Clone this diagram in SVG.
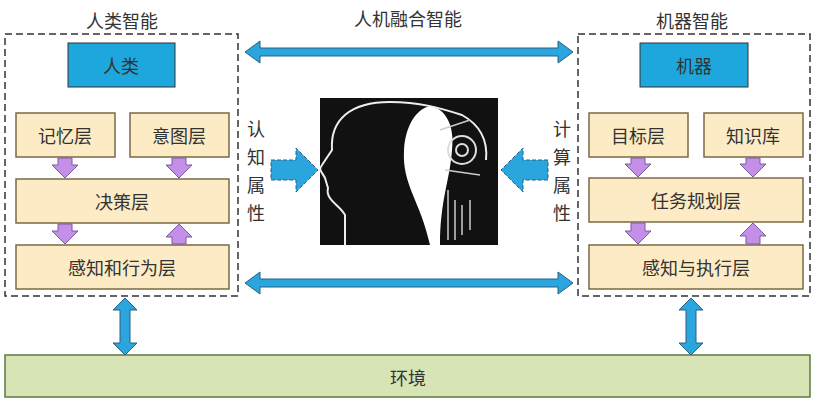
<svg xmlns="http://www.w3.org/2000/svg" width="815" height="400" viewBox="0 0 815 400">
<style>
text{font-family:"Noto Sans CJK SC","Liberation Sans",sans-serif;fill:#333;text-anchor:middle;dominant-baseline:central}
.t{font-size:18px}
.dash{fill:none;stroke:#333;stroke-width:1.5;stroke-dasharray:7 4}
.blue{fill:#1ea7dd;stroke:#333;stroke-width:1}
.layer{fill:#fcebc4;stroke:#7a6a45;stroke-width:1.5}
.arr{fill:#2aa5de;stroke:#2a5f86;stroke-width:1}
.darr{fill:#2aa5de;stroke:#2a5f86;stroke-width:1;stroke-dasharray:4 2}
.pur{fill:#c48fe9;stroke:#7a5a9a;stroke-width:1}
</style>
<rect width="815" height="400" fill="#fff"/>
<text class="t" x="122" y="20">人类智能</text>
<text class="t" x="408" y="18">人机融合智能</text>
<text class="t" x="692" y="20">机器智能</text>
<g id="human">
<rect class="dash" x="5" y="34" width="233" height="262"/>
<g id="human-node"><rect class="blue" x="68" y="43" width="107" height="44"/><text class="t" x="121" y="65">人类</text></g>
<g id="memory"><rect class="layer" x="16" y="113" width="99" height="44"/><text class="t" x="65" y="135">记忆层</text></g>
<g id="intent"><rect class="layer" x="130" y="113" width="99" height="44"/><text class="t" x="179" y="135">意图层</text></g>
<g id="decision"><rect class="layer" x="16" y="179" width="213" height="44"/><text class="t" x="122" y="201">决策层</text></g>
<g id="perceive-act"><rect class="layer" x="16" y="245" width="213" height="44"/><text class="t" x="122" y="267">感知和行为层</text></g>
</g>
<g id="machine">
<rect class="dash" x="578" y="34" width="232" height="262"/>
<g id="machine-node"><rect class="blue" x="640" y="43" width="108" height="44"/><text class="t" x="694" y="65">机器</text></g>
<g id="goal"><rect class="layer" x="589" y="113" width="99" height="44"/><text class="t" x="638" y="135">目标层</text></g>
<g id="knowledge"><rect class="layer" x="704" y="113" width="99" height="44"/><text class="t" x="753" y="135">知识库</text></g>
<g id="planning"><rect class="layer" x="589" y="178" width="214" height="44"/><text class="t" x="696" y="200">任务规划层</text></g>
<g id="perceive-exec"><rect class="layer" x="589" y="245" width="214" height="44"/><text class="t" x="696" y="267">感知与执行层</text></g>
</g>
<g id="image">
<rect x="320" y="98" width="178" height="147" fill="#111"/>
<path d="M430 245 C420 200 402 185 404 150 C406 120 420 108 430 106 C445 108 455 125 452 150 C450 180 440 200 440 245 Z" fill="#fff"/>
<path d="M345 245 L345 215 C340 205 325 200 328 188 L325 178 C322 172 318 170 322 165 L332 150 C330 120 350 102 390 102 C420 102 440 108 462 115 C480 125 488 140 486 160" fill="none" stroke="#eee" stroke-width="2"/>
<circle cx="462" cy="150" r="14" fill="none" stroke="#ddd" stroke-width="2"/>
<circle cx="462" cy="150" r="6" fill="none" stroke="#ddd" stroke-width="2"/>
<path d="M448 190 L448 240 M455 200 L455 240 M462 205 L462 235 M470 200 L470 230 M440 130 L470 120 M445 170 L480 175" stroke="#ccc" stroke-width="1.5" fill="none"/>
</g>
<g id="labels">
<text class="t" x="256" y="128">认</text><text class="t" x="256" y="156">知</text><text class="t" x="256" y="184">属</text><text class="t" x="256" y="212">性</text>
<text class="t" x="562" y="128">计</text><text class="t" x="562" y="156">算</text><text class="t" x="562" y="184">属</text><text class="t" x="562" y="212">性</text>
</g>
<g id="env"><rect x="5" y="355" width="805" height="42" fill="#d7e4b6" stroke="#5e7a3c" stroke-width="1.5"/><text class="t" x="408" y="377">环境</text></g>
<g id="connectors">
<path class="arr" d="M245 52 L260 41 L260 48 L558 48 L558 41 L573 52 L558 63 L558 56 L260 56 L260 63 Z"/>
<path class="arr" d="M245 283 L260 272 L260 279 L558 279 L558 272 L573 283 L558 294 L558 287 L260 287 L260 294 Z"/>
<path class="darr" d="M271 160 L296 160 L296 148 L318 170 L296 192 L296 180 L271 180 Z"/>
<path class="darr" d="M548 160 L523 160 L523 148 L501 170 L523 192 L523 180 L548 180 Z"/>
<path class="arr" d="M125 298 L137 310 L130 310 L130 343 L137 343 L125 355 L113 343 L120 343 L120 310 L113 310 Z"/>
<path class="arr" d="M691 298 L703 310 L696 310 L696 343 L703 343 L691 355 L679 343 L686 343 L686 310 L679 310 Z"/>
<path class="pur" d="M58 158 L72 158 L72 165 L78 165 L65 178 L52 165 L58 165 Z"/>
<path class="pur" d="M172 158 L186 158 L186 165 L192 165 L179 178 L166 165 L172 165 Z"/>
<path class="pur" d="M58 224 L72 224 L72 231 L78 231 L65 244 L52 231 L58 231 Z"/>
<path class="pur" d="M172 244 L186 244 L186 237 L192 237 L179 224 L166 237 L172 237 Z"/>
<path class="pur" d="M631 158 L645 158 L645 164 L651 164 L638 177 L625 164 L631 164 Z"/>
<path class="pur" d="M746 158 L760 158 L760 164 L766 164 L753 177 L740 164 L746 164 Z"/>
<path class="pur" d="M631 223 L645 223 L645 231 L651 231 L638 244 L625 231 L631 231 Z"/>
<path class="pur" d="M746 244 L760 244 L760 236 L766 236 L753 223 L740 236 L746 236 Z"/>
</g>
</svg>
